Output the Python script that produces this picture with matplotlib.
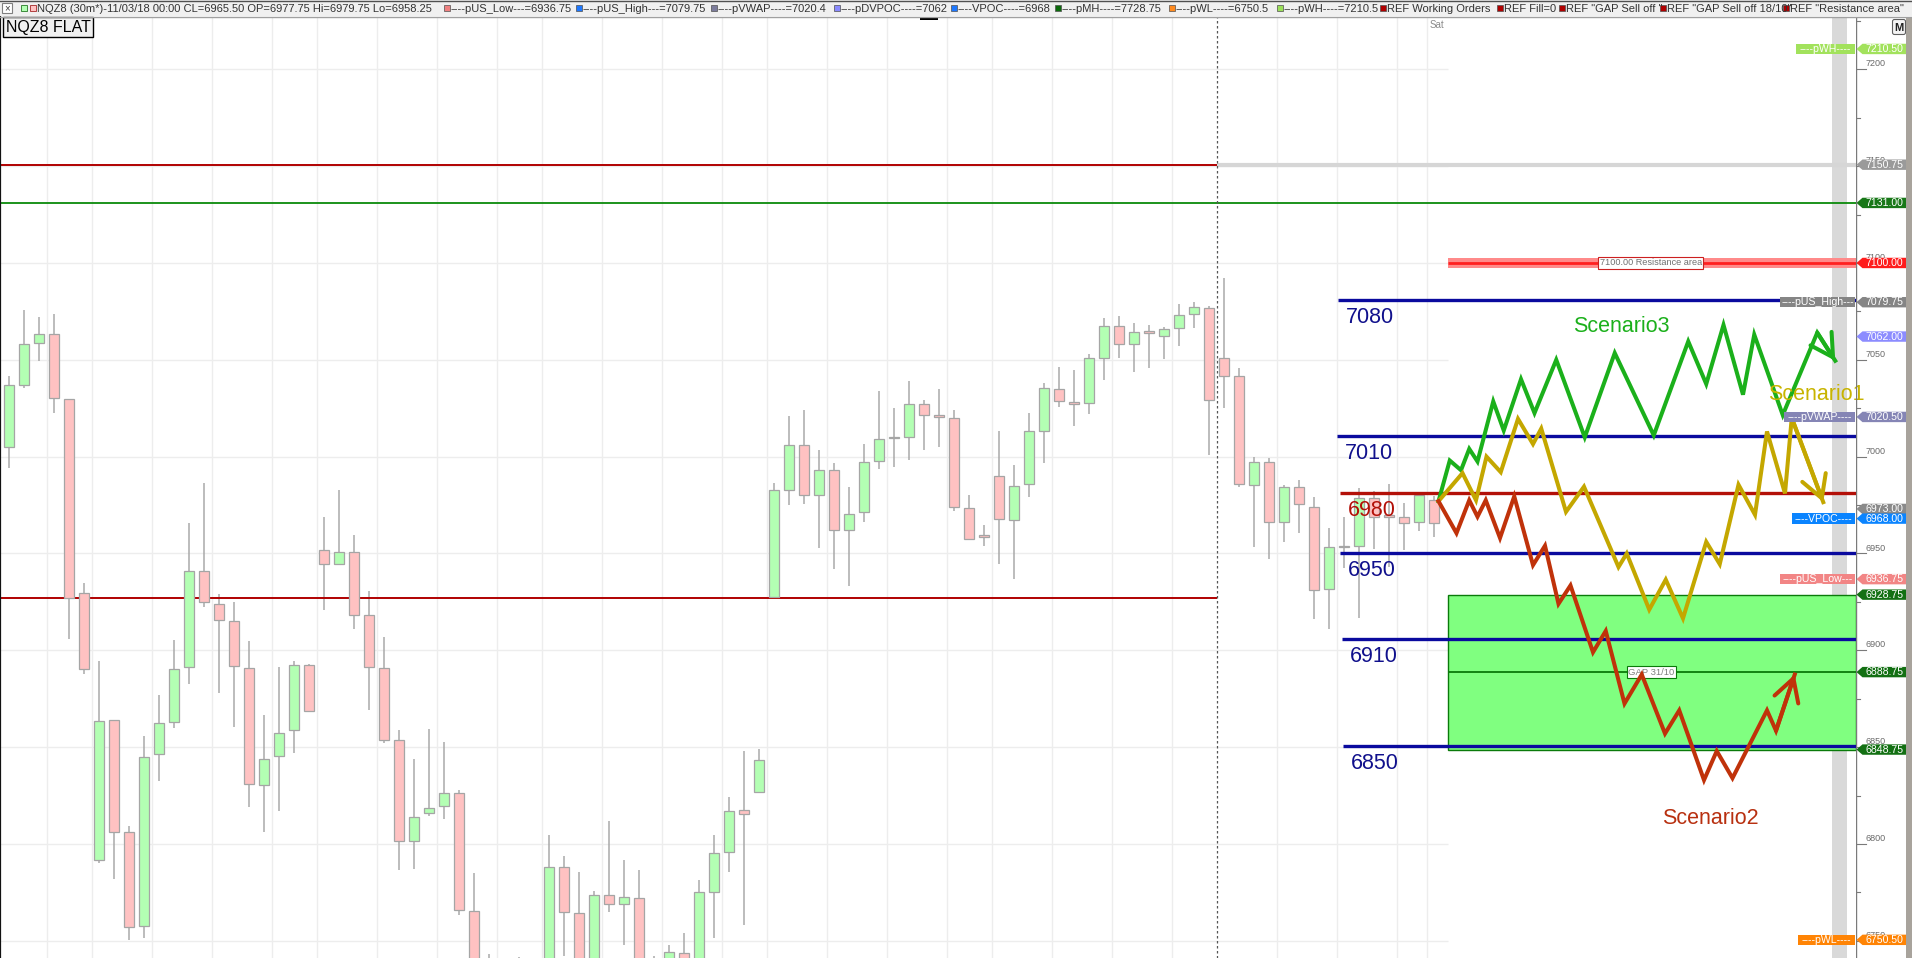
import numpy as np
import matplotlib.pyplot as plt
from matplotlib.patches import Rectangle, Polygon, FancyBboxPatch

plt.rcParams['font.family'] = ['Liberation Sans', 'DejaVu Sans']

W, H = 1912, 958

# NQZ8 30 min bars (bars below 6741 are cut off by the frame)
opens = [7005.0, 7036.75, 7058.5, 7063.25, 7030.0, 6929.5, 6791.75, 6864.25, 6806.0, 6757.5,
         6846.5, 6862.75, 6891.25, 6940.75, 6923.75, 6915.0, 6891.0, 6830.5, 6845.5, 6858.75,
         6892.25, 6952.0, 6944.5, 6951.0, 6918.0, 6890.75, 6853.5, 6801.75, 6816.0, 6819.5,
         6826.25, 6765.25, 6738.0, 6722.0, 6712.0, 6730.0, 6725.0, 6788.0, 6764.25, 6735.0,
         6773.5, 6769.25, 6772.25, 6730.0, 6722.0, 6743.5, 6728.0, 6775.0, 6796.0, 6817.75,
         6826.75, 6927.75, 6983.0, 7006.25, 6980.0, 6993.0, 6962.0, 6971.25, 6997.5, 7009.5,
         7010.0, 7027.0, 7021.25, 7019.75, 6973.25, 6958.75, 6989.75, 6967.25, 6985.75, 7013.0,
         7034.75, 7028.0, 7027.5, 7050.75, 7067.25, 7058.0, 7064.25, 7062.5, 7066.25, 7073.5,
         7077.0, 7050.75, 7041.5, 6985.25, 6997.0, 6966.5, 6984.5, 6974.25, 6931.5, 6953.5,
         6953.75, 6978.75, 6970.0, 6969.0, 6966.25, 6977.75]
highs = [7041.5, 7075.75, 7072.25, 7073.5, 7030.0, 6934.75, 6894.5, 6864.25, 6809.5, 6856.0,
         6876.75, 6905.25, 6965.75, 6986.5, 6929.0, 6925.0, 6904.75, 6866.5, 6891.25, 6894.5,
         6893.0, 6968.75, 6982.75, 6959.75, 6930.5, 6906.75, 6858.75, 6844.0, 6859.25, 6852.75,
         6827.75, 6785.0, 6743.25, 6735.0, 6741.75, 6738.0, 6804.5, 6794.0, 6785.5, 6775.5,
         6812.0, 6791.75, 6786.5, 6742.25, 6748.0, 6754.0, 6781.5, 6804.5, 6824.5, 6848.25,
         6849.0, 6986.5, 7021.0, 7024.0, 7003.5, 6996.75, 6984.25, 7006.5, 7034.0, 7025.0,
         7039.0, 7029.25, 7035.0, 7024.0, 6980.25, 6964.75, 7013.25, 6995.75, 7022.5, 7038.0,
         7046.25, 7044.75, 7053.25, 7071.75, 7072.5, 7069.25, 7068.0, 7067.0, 7078.75, 7079.75,
         7078.0, 7092.0, 7046.0, 7000.0, 6999.5, 6985.5, 6988.0, 6979.0, 6963.0, 6968.75,
         6984.0, 6982.25, 6985.75, 6976.0, 6981.0, 6979.75]
lows = [6994.0, 7035.5, 7049.5, 7022.5, 6906.0, 6888.0, 6790.0, 6782.0, 6750.5, 6751.5,
        6832.5, 6860.0, 6882.75, 6922.5, 6877.75, 6860.5, 6819.25, 6806.0, 6817.25, 6846.75,
        6868.5, 6921.0, 6944.5, 6911.0, 6869.0, 6852.25, 6786.75, 6787.25, 6814.5, 6813.0,
        6763.25, 6725.0, 6715.0, 6705.0, 6708.0, 6712.0, 6720.0, 6742.25, 6728.0, 6730.0,
        6765.0, 6748.0, 6725.0, 6715.0, 6718.0, 6720.0, 6722.0, 6751.25, 6785.5, 6758.25,
        6826.5, 6927.25, 6975.0, 6975.75, 6953.0, 6941.75, 6933.0, 6966.0, 6993.75, 6994.75,
        6998.5, 7003.5, 7005.0, 6972.0, 6957.25, 6954.0, 6944.5, 6937.0, 6979.25, 6996.5,
        7025.75, 7016.0, 7022.25, 7039.5, 7051.0, 7043.5, 7046.0, 7050.25, 7057.25, 7066.5,
        7000.75, 7025.0, 6984.5, 6953.25, 6947.0, 6956.0, 6960.5, 6916.0, 6911.25, 6942.25,
        6916.5, 6952.5, 6943.25, 6951.75, 6961.75, 6958.25]
closes = [7036.75, 7058.0, 7063.25, 7030.5, 6927.25, 6890.25, 6863.75, 6806.0, 6757.0, 6845.0,
          6862.25, 6890.25, 6940.75, 6924.75, 6915.5, 6891.75, 6830.75, 6844.0, 6857.5, 6892.5,
          6868.5, 6944.5, 6951.0, 6918.25, 6891.25, 6853.75, 6801.75, 6814.0, 6818.75, 6826.5,
          6766.0, 6735.0, 6722.0, 6712.0, 6730.0, 6725.0, 6788.25, 6764.75, 6735.0, 6773.5,
          6769.0, 6772.75, 6730.0, 6722.0, 6744.0, 6728.0, 6775.0, 6795.25, 6817.25, 6815.25,
          6843.25, 6982.75, 7006.25, 6980.0, 6993.0, 6962.0, 6970.25, 6997.0, 7009.0, 7009.75,
          7027.0, 7021.25, 7020.25, 6973.75, 6957.25, 6958.5, 6968.0, 6984.75, 7013.0, 7035.25,
          7028.5, 7027.0, 7050.75, 7067.25, 7058.0, 7064.25, 7064.0, 7065.75, 7073.0, 7077.5,
          7029.0, 7041.5, 6985.75, 6997.0, 6966.5, 6984.5, 6975.5, 6931.0, 6953.5, 6953.25,
          6978.75, 6968.75, 6968.75, 6965.5, 6980.0, 6965.5]

# hand drawn scenarios (bar index, price)
s3_x = [95.3, 96.05, 96.8, 97.35, 97.9, 98.95, 99.65, 100.8, 101.7, 103.15, 105.05, 107.05,
        109.65, 111.95, 113.15, 114.3, 115.6, 116.35, 118.25, 120.55, 121.75]
s3_y = [6977, 6998, 6993, 7004, 6997.5, 7028.5, 7013.5, 7040, 7022.5, 7050, 7010, 7053.5,
        7011, 7059.5, 7037.5, 7068, 7032, 7063, 7021.5, 7064, 7049.5]
s1_x = [95.3, 96.9, 97.8, 98.5, 99.45, 100.6, 101.6, 102.15, 103.8, 105.0, 107.3, 107.85,
        109.35, 110.45, 111.6, 113.15, 114.05, 115.3, 116.4, 117.2, 118.4, 118.85, 120.95]
s1_y = [6977, 6991.5, 6977.5, 7000, 6992, 7019.5, 7006.5, 7014.5, 6971.5, 6984.5, 6943, 6950,
        6921, 6936.5, 6916.5, 6956, 6944.5, 6985.5, 6970, 7013, 6981, 7020, 6976.5]
s2_x = [95.3, 96.5, 97.35, 97.9, 98.45, 99.4, 100.35, 101.6, 102.4, 103.3, 104.1, 105.6,
        106.45, 107.7, 108.85, 110.4, 111.35, 113.0, 113.85, 114.9, 117.2, 117.8, 119.05]
s2_y = [6977, 6960.5, 6977.5, 6969, 6977.5, 6958, 6979.5, 6944, 6954, 6924, 6933.5, 6899,
        6910, 6872.5, 6887.5, 6857, 6869, 6833, 6848, 6834, 6869, 6858.5, 6887.5]

# drawn levels
level_prices = [7081, 7010.5, 6981, 6950, 6906, 6850.5]
level_names = ['7080', '7010', '6980', '6950', '6910', '6850']
level_colors = ['#0a0a9e', '#0a0a9e', '#b31008', '#0a0a9e', '#0a0a9e', '#0a0a9e']
level_start = [88.6, 88.5, 88.7, 88.7, 88.85, 88.9]

old_red_levels = [7150.75, 6927]
pmh_level = 7131.0
resistance = 7100.0
gap_top, gap_mid, gap_bot = 6928.75, 6888.75, 6848.75
session_break = 80.5
future_start = 95.95

# right scale tags
tag_prices = [7210.5, 7150.75, 7131.0, 7100.0, 7079.75, 7062.0, 7020.5, 6973.0, 6968.0,
              6936.75, 6928.75, 6888.75, 6848.75, 6750.5]
tag_colors = ['#a2e25c', '#9a9a9a', '#187818', '#ff1c1c', '#858585', '#8c8cff', '#8585b5',
              '#8a8a8a', '#0a84ff', '#f28585', '#137013', '#137013', '#137013', '#ff8405']
tag_names = ['----pWH----', None, None, None, '----pUS_High---', None, '----pVWAP----', None,
             '----VPOC----', '----pUS_Low---', None, None, None, '----pWL----']
tag_name_left = [1796, 0, 0, 0, 1780, 0, 1784, 0, 1792, 1780, 0, 0, 0, 1798]

# header legend
legend_x = [444, 576, 711, 834, 951, 1055, 1169, 1277, 1380, 1497, 1559, 1660, 1783]
legend_colors = ['#f08080', '#1e78ff', '#7c7c9c', '#8a8aff', '#1e78ff', '#0b6b0b', '#ff8a1e',
                 '#9be05a', '#b00000', '#b00000', '#b00000', '#b00000', '#b00000']
legend_texts = ['----pUS_Low---=6936.75', '----pUS_High---=7079.75', '----pVWAP----=7020.4',
                '----pDVPOC----=7062', '----VPOC----=6968', '----pMH----=7728.75',
                '----pWL----=6750.5', '----pWH----=7210.5', 'REF Working Orders', 'REF Fill=0',
                'REF "GAP Sell off "', 'REF "GAP Sell off 18/10"', 'REF "Resistance area"']

grid_bars = [2.5, 5.5, 9.5, 13.5, 17.5, 20.5, 24.5, 28.5, 32.5, 35.5, 39.5, 43.5, 47.5, 50.5,
             54.5, 58.5, 62.5, 65.5, 69.5, 73.5, 77.5, 84.5, 88.5, 92.5, 94.5]

# geometry of the screen: 15 px per bar, 1.9367 px per point
PXP = 1.9367
TOP = 17
y_top = 7200 + (69.3 - TOP) / PXP
y_bot = 7200 - (H - 69.3) / PXP
x_left = -9 / 15
x_right = (1856 - 9) / 15

fig = plt.figure(figsize=(W / 100, H / 100), dpi=100)
fig.patch.set_facecolor('white')

ax = fig.add_axes([0, 0, 1856 / W, (H - TOP) / H])
ax.set_xlim(x_left, x_right)
ax.set_ylim(y_bot, y_top)
ax.set_xticks([])
ax.set_yticks([])
for s in ['top', 'bottom', 'right']:
    ax.spines[s].set_visible(False)
ax.spines['left'].set_color('#111111')
ax.spines['left'].set_linewidth(1.6)

# grid
for p in range(6750, 7201, 50):
    ax.hlines(p, x_left, future_start, color='#ededed', lw=1, zorder=0)
ax.vlines(grid_bars, y_bot, y_top, color='#ededed', lw=1, zorder=0)
ax.axvspan((1832 - 9) / 15, (1847 - 9) / 15, color='#d9d9d9', zorder=0.5, lw=0)

# candles
o = np.array(opens)
c = np.array(closes)
idx = np.arange(len(o))
up = c >= o
ax.vlines(idx, lows, highs, color='#a9a9a9', lw=1.1, zorder=2)
body = np.maximum(np.abs(c - o), 0.8)
ax.bar(idx, body, bottom=np.minimum(o, c), width=0.73,
       color=np.where(up, '#b3ffb3', '#ffc2c2'), edgecolor='#a5a5a5', linewidth=0.9, zorder=3)

# old levels
for p in old_red_levels:
    ax.hlines(p, x_left, session_break, color='#b00000', lw=1.4, zorder=2.5)
ax.hlines(old_red_levels[0], session_break, x_right, color='#d6d6d6', lw=3, zorder=2.5)
ax.hlines(pmh_level, x_left, x_right, color='#0a8a0a', lw=1.3, zorder=2.5)
ax.vlines(session_break, y_bot, y_top, color='#555555', lw=0.9, linestyles=(0, (2, 2)), zorder=2.5)

# resistance area
ax.hlines(resistance, future_start, x_right, color='#ff8a8a', lw=7.2, zorder=3)
ax.hlines(resistance, future_start, x_right, color='#ff2020', lw=2.0, zorder=3.1)
ax.text(109.45, resistance, '7100.00 Resistance area', fontsize=6.6, color='#707070',
        ha='center', va='center', zorder=3.2,
        bbox=dict(boxstyle='square,pad=0.15', fc='white', ec='#cc2020', lw=0.8))

# gap box
ax.add_patch(Rectangle((future_start, gap_bot), x_right - future_start, gap_top - gap_bot,
                       fc='#80ff80', ec='#0a7a0a', lw=1, zorder=3))
ax.hlines(gap_mid, future_start, x_right, color='#0a7a0a', lw=1.3, zorder=3.1)
ax.text(109.5, gap_mid, 'GAP 31/10', fontsize=6.8, color='#808080', ha='center', va='center',
        zorder=3.2, bbox=dict(boxstyle='square,pad=0.15', fc='white', ec='#0a7a0a', lw=0.8))

# drawn levels
for p, name, col, x0 in zip(level_prices, level_names, level_colors, level_start):
    ax.hlines(p, x0, x_right, color=col, lw=2.4, zorder=4)
    ax.text(x0 + 0.55, p - 9, name, fontsize=15.5, color=col if col != '#0a0a9e' else '#10108c',
            ha='left', va='center', zorder=6)

# scenarios
for xs, ys, col in [(s3_x, s3_y, '#1bb01b'), (s1_x, s1_y, '#c4a700'), (s2_x, s2_y, '#c0320a')]:
    ax.plot(xs, ys, color=col, lw=2.9, solid_joinstyle='miter', zorder=5)
    ax.annotate('', xy=(xs[-1], ys[-1]), xytext=(xs[-2], ys[-2]), zorder=5,
                arrowprops=dict(arrowstyle='->,head_length=0.8,head_width=0.45', color=col,
                                lw=2.9, mutation_scale=20, shrinkA=0, shrinkB=0))
ax.text(104.3, 7067, 'Scenario3', fontsize=15.5, color='#1bb01b', ha='left', va='center', zorder=6)
ax.text(117.3, 7032.3, 'Scenario1', fontsize=15.5, color='#c8b400', ha='left', va='center', zorder=6)
ax.text(110.2, 6813.4, 'Scenario2', fontsize=15.5, color='#b83010', ha='left', va='center', zorder=6)

# right price scale
axr = fig.add_axes([1856 / W, 0, 56 / W, (H - TOP) / H], sharey=ax)
axr.set_xlim(0, 56)
axr.axis('off')
axr.patch.set_visible(False)
axr.plot([0, 0], [y_bot, y_top], color='#7a7a7a', lw=1, zorder=1)
for p in np.arange(6750, 7226, 25):
    axr.plot([0, 10 if p % 50 == 0 else 4], [p, p], color='#7a7a7a', lw=0.8, zorder=1)
    if p % 50 == 0:
        axr.text(10, p + 0.5, str(int(p)), fontsize=6.5, color='#6a6a6a', ha='left', va='bottom', zorder=1)
hh = 5.2 / PXP
for p, col, name, nx in zip(tag_prices, tag_colors, tag_names, tag_name_left):
    axr.add_patch(Polygon([(0.5, p), (6.5, p + hh), (50.5, p + hh), (50.5, p - hh), (6.5, p - hh)],
                          closed=True, fc=col, ec='none', zorder=5, clip_on=False))
    axr.text(28.5, p, f'{p:.2f}', fontsize=7.6, color='white', ha='center', va='center', zorder=6)
    if name:
        x0 = nx - 1856
        axr.add_patch(Rectangle((x0, p - hh), -1 - x0, 2 * hh, fc=col, ec='none', zorder=5,
                                clip_on=False))
        axr.text((x0 - 1) / 2, p, name, fontsize=7.6, color='white', ha='center', va='center',
                 zorder=6, clip_on=False)

# overlay: header, labels, window border
axo = fig.add_axes([0, 0, 1, 1])
axo.set_xlim(0, W)
axo.set_ylim(H, 0)
axo.axis('off')
axo.patch.set_visible(False)
axo.add_patch(Rectangle((0, 0), W, 16, fc='#f0f0f0', ec='none'))
axo.plot([0, W], [16.5, 16.5], color='#a0a0a0', lw=1)
axo.plot([0, W], [0.5, 0.5], color='#505050', lw=1)
axo.add_patch(Rectangle((2, 3), 10, 10, fc='white', ec='#808080', lw=0.8))
axo.text(7, 8.3, '×', fontsize=7, color='#404040', ha='center', va='center')
axo.add_patch(Rectangle((21, 5), 6, 6, fc='#b3ffb3', ec='#3c8a3c', lw=0.7))
axo.add_patch(Rectangle((30, 5), 6, 6, fc='#ffc2c2', ec='#b04040', lw=0.7))
axo.text(37.5, 8.5, 'NQZ8 (30m*)-11/03/18 00:00 CL=6965.50 OP=6977.75 Hi=6979.75 Lo=6958.25',
         fontsize=8, color='#333333', ha='left', va='center')
for lx, lc, lt in zip(legend_x, legend_colors, legend_texts):
    axo.add_patch(Rectangle((lx, 5), 6, 6, fc=lc, ec='#505050', lw=0.5))
    axo.text(lx + 7, 8.5, lt, fontsize=8, color='#333333', ha='left', va='center')
axo.add_patch(Rectangle((920, 18), 18, 2, fc='black', ec='none'))
axo.add_patch(Rectangle((3, 17), 90, 20, fc='#f0f0f0', ec='black', lw=1))
axo.text(48, 27.5, 'NQZ8 FLAT', fontsize=11.5, color='black', ha='center', va='center')
axo.text(1430, 25, 'Sat', fontsize=7, color='#8a8a8a', ha='left', va='center')
axo.add_patch(FancyBboxPatch((1893, 20), 12, 14, boxstyle='round,pad=0.5,rounding_size=2',
                             fc='#f4f4f4', ec='#606060', lw=0.8))
axo.text(1899, 27.5, 'M', fontsize=8, color='#202020', ha='center', va='center', weight='bold')
axo.add_patch(Rectangle((1906, 17), 6, H - 17, fc='#a8a39c', ec='none'))

fig.savefig('out.png', dpi=100)
